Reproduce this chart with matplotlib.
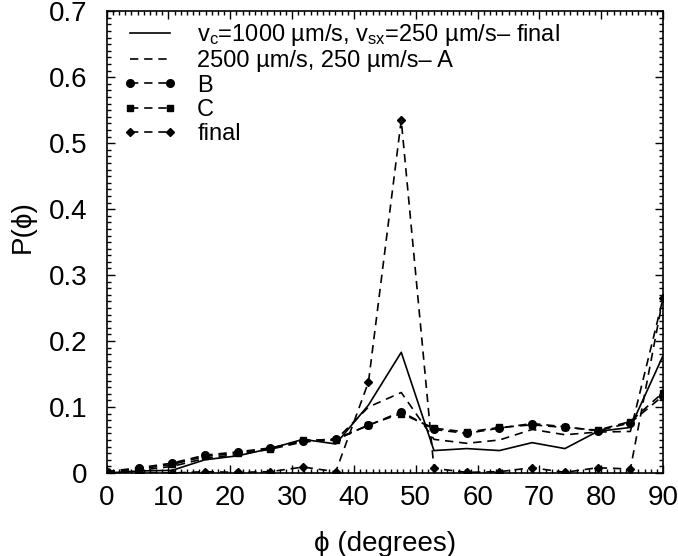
import matplotlib
matplotlib.use("Agg")
import matplotlib.pyplot as plt
import numpy as np

plt.rcParams['font.family'] = ['Liberation Sans', 'DejaVu Sans']
plt.rcParams['mathtext.fontset'] = 'custom'
plt.rcParams['mathtext.rm'] = 'Liberation Sans'
plt.rcParams['mathtext.it'] = 'Liberation Sans'
plt.rcParams['mathtext.default'] = 'regular'

# angulos (grados)
phi = [0, 5.29, 10.59, 15.88, 21.18, 26.47, 31.76, 37.06, 42.35,
       47.65, 52.94, 58.24, 63.53, 68.82, 74.12, 79.41, 84.71, 90]

# v_c=1000, v_sx=250 - final
p_1000_final = [0.0, 0.003, 0.004, 0.020, 0.026, 0.037, 0.051, 0.044, 0.103,
                0.183, 0.034, 0.037, 0.034, 0.046, 0.037, 0.063, 0.069, 0.178]
# 2500, 250 - A
p_A = [0.0, 0.004, 0.010, 0.022, 0.028, 0.036, 0.047, 0.050, 0.100,
       0.122, 0.051, 0.045, 0.050, 0.066, 0.058, 0.062, 0.063, 0.265]
# B
p_B = [0.002, 0.008, 0.015, 0.027, 0.032, 0.038, 0.048, 0.052, 0.072,
       0.093, 0.066, 0.060, 0.068, 0.075, 0.070, 0.064, 0.076, 0.117]
# C
p_C = [0.002, 0.006, 0.013, 0.025, 0.030, 0.037, 0.050, 0.050, 0.073,
       0.090, 0.068, 0.062, 0.069, 0.073, 0.069, 0.065, 0.078, 0.122]
# final
p_final = [0.0, 0.0, 0.0, 0.002, 0.001, 0.002, 0.009, 0.002, 0.138,
           0.535, 0.007, 0.001, 0.002, 0.008, 0.001, 0.008, 0.006, 0.266]

narrow = ['Liberation Sans Narrow', 'Liberation Sans', 'DejaVu Sans']

fig = plt.figure(figsize=(6.78, 5.56), dpi=100)
ax = fig.add_axes([0.1573, 0.1493, 0.8207, 0.8305])

dash = (5, 3.5)
ax.plot(phi, p_1000_final, color='k', lw=1.2,
        label=r'v$_{c}$=1000 µm/s, v$_{sx}$=250 µm/s– final')
ax.plot(phi, p_A, color='k', lw=1.2, dashes=dash,
        label='2500 µm/s, 250 µm/s– A')
ax.plot(phi, p_B, color='k', lw=1.2, dashes=dash, marker='o', ms=5.5,
        label='B')
ax.plot(phi, p_C, color='k', lw=1.2, dashes=dash, marker='s', ms=5,
        label='C')
ax.plot(phi, p_final, color='k', lw=1.2, dashes=dash, marker='D', ms=4,
        label='final')

ax.set_xlim(0, 90)
ax.set_ylim(0, 0.7)
ax.set_xticks(np.arange(0, 91, 10))
ax.set_yticks(np.arange(0, 0.71, 0.1))
ax.set_yticklabels(['0', '0.1', '0.2', '0.3', '0.4', '0.5', '0.6', '0.7'])
ax.set_xticks(np.arange(0, 91, 1), minor=True)
ax.set_yticks(np.arange(0, 0.701, 0.01), minor=True)
ax.tick_params(which='both', direction='in', top=True, right=True,
               labelsize=20, width=1)
ax.tick_params(which='major', length=6)
ax.tick_params(which='minor', length=3)
ax.tick_params(axis='x', which='major', pad=9)
ax.tick_params(axis='y', which='major', pad=14)
for lbl in ax.get_xticklabels():
    lbl.set_family(narrow)
for s in ax.spines.values():
    s.set_linewidth(1.2)

ax.set_xlabel('ϕ (degrees)', fontsize=20, labelpad=14, family=narrow)
ax.set_ylabel('P(ϕ)', fontsize=20)
ax.yaxis.set_label_coords(-0.128, 0.534)

ax.legend(loc='upper left', bbox_to_anchor=(0.01, 1.0), frameon=False,
          fontsize=17, numpoints=2, handlelength=2.3, labelspacing=0.1,
          borderaxespad=0.05, handletextpad=0.85, borderpad=0.4)

fig.savefig('out.png', dpi=100)
